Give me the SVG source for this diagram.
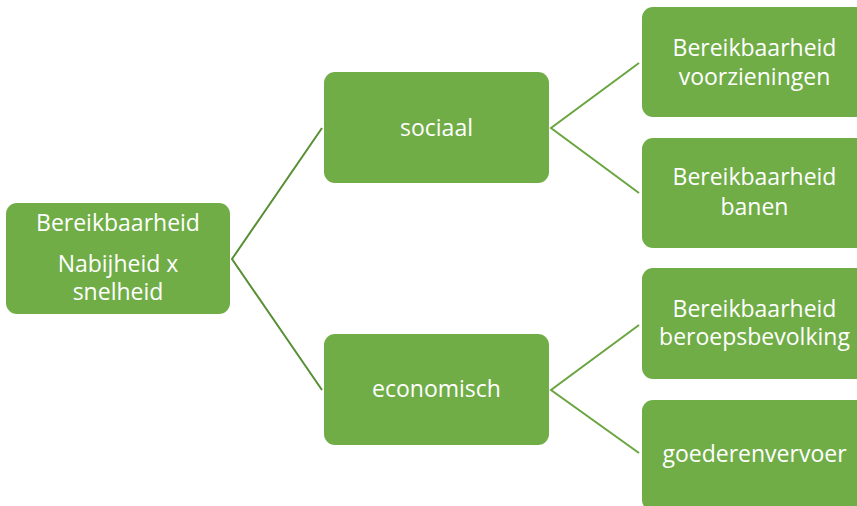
<svg xmlns="http://www.w3.org/2000/svg" width="857" height="506" viewBox="0 0 857 506">
  <style>
    .box { fill: #70AD47; }
    .lbl { fill: #ffffff; font-family: "Open Sans", "Noto Sans", "Liberation Sans", sans-serif; font-size: 23px; text-anchor: middle; }
    .edge-l { stroke: #578f34; stroke-width: 2; fill: none; }
    .edge-r { stroke: #6aa540; stroke-width: 2; fill: none; }
  </style>
  <rect width="857" height="506" fill="#ffffff"/>

  <g id="connectors">
    <polyline class="edge-l" points="322,128 232,259 322,390"/>
    <polyline class="edge-r" points="639,63 551,128 639,193"/>
    <polyline class="edge-r" points="639,325 551,390 639,453"/>
  </g>

  <g id="root">
    <rect class="box" x="6" y="203" width="224" height="111" rx="11"/>
    <text class="lbl" x="118" y="231">Bereikbaarheid</text>
    <text class="lbl" x="118" y="272">Nabijheid x</text>
    <text class="lbl" x="118" y="300">snelheid</text>
  </g>

  <g id="sociaal">
    <rect class="box" x="324" y="72" width="225" height="111" rx="11"/>
    <text class="lbl" x="436.5" y="136">sociaal</text>
  </g>

  <g id="economisch">
    <rect class="box" x="324" y="334" width="225" height="111" rx="11"/>
    <text class="lbl" x="436.5" y="397">economisch</text>
  </g>

  <g id="voorzieningen">
    <rect class="box" x="642" y="7" width="225" height="110" rx="11"/>
    <text class="lbl" x="754.5" y="56">Bereikbaarheid</text>
    <text class="lbl" x="754.5" y="85">voorzieningen</text>
  </g>

  <g id="banen">
    <rect class="box" x="642" y="138" width="225" height="110" rx="11"/>
    <text class="lbl" x="754.5" y="185">Bereikbaarheid</text>
    <text class="lbl" x="754.5" y="215">banen</text>
  </g>

  <g id="beroepsbevolking">
    <rect class="box" x="642" y="268" width="225" height="111" rx="11"/>
    <text class="lbl" x="754.5" y="317">Bereikbaarheid</text>
    <text class="lbl" x="754.5" y="345">beroepsbevolking</text>
  </g>

  <g id="goederenvervoer">
    <rect class="box" x="642" y="400" width="225" height="111" rx="11"/>
    <text class="lbl" x="754.5" y="462">goederenvervoer</text>
  </g>
</svg>
